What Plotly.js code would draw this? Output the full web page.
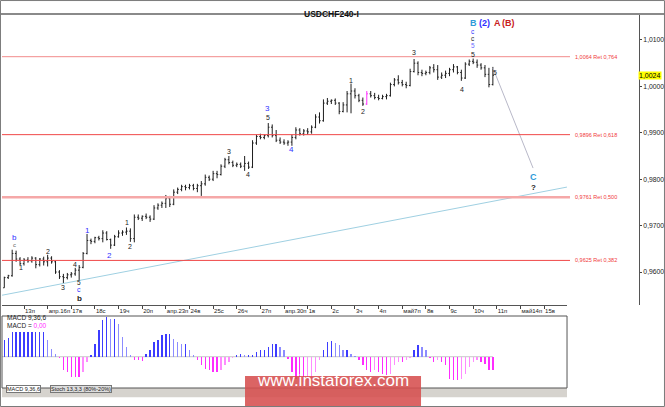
<!DOCTYPE html>
<html>
<head>
<meta charset="utf-8">
<script src="https://cdn.plot.ly/plotly-3.0.1.min.js"></script>
<style>html,body{margin:0;padding:0;background:#fff}#chart{width:665px;height:407px}</style>
</head>
<body>
<div id="chart"></div>
<script>
// USDCHF H4 bars, 6 per trading day, index 0 = first visible bar (Apr 12)
var openP = [
  0.9560,0.9566,0.9588,0.9592,0.9640,0.9628,0.9618,0.9626,0.9624,0.9630,
  0.9616,0.9628,0.9622,0.9630,0.9622,0.9600,0.9590,0.9588,0.9594,0.9596,
  0.9604,0.9610,0.9640,0.9668,0.9666,0.9674,0.9672,0.9684,0.9670,0.9658,
  0.9676,0.9684,0.9686,0.9688,0.9672,0.9718,0.9716,0.9720,0.9718,0.9714,
  0.9738,0.9744,0.9748,0.9758,0.9746,0.9772,0.9778,0.9784,0.9782,0.9786,
  0.9780,0.9786,0.9790,0.9804,0.9800,0.9812,0.9810,0.9828,0.9842,0.9836,
  0.9830,0.9832,0.9828,0.9834,0.9826,0.9878,0.9892,0.9890,0.9894,0.9912,
  0.9894,0.9884,0.9880,0.9878,0.9880,0.9890,0.9906,0.9898,0.9904,0.9902,
  0.9912,0.9934,0.9926,0.9964,0.9968,0.9970,0.9964,0.9946,0.9960,0.9984,
  0.9990,0.9980,0.9970,0.9962,0.9984,0.9980,0.9976,0.9974,0.9978,0.9980,
  1.0004,1.0014,1.0008,1.0004,1.0002,1.0032,1.0050,1.0030,1.0028,1.0030,
  1.0040,1.0036,1.0020,1.0024,1.0028,1.0036,1.0042,1.0030,1.0018,1.0048,
  1.0054,1.0052,1.0046,1.0040,1.0026,1.0004
];
var highP = [
  0.9568,0.9590,0.9594,0.9648,0.9646,0.9632,0.9630,0.9632,0.9634,0.9632,
  0.9630,0.9633,0.9637,0.9634,0.9624,0.9604,0.9596,0.9598,0.9600,0.9609,
  0.9615,0.9643,0.9682,0.9672,0.9676,0.9678,0.9690,0.9688,0.9672,0.9680,
  0.9690,0.9690,0.9696,0.9694,0.9724,0.9724,0.9722,0.9726,0.9722,0.9744,
  0.9748,0.9752,0.9766,0.9764,0.9778,0.9782,0.9788,0.9788,0.9790,0.9790,
  0.9790,0.9796,0.9810,0.9808,0.9818,0.9818,0.9832,0.9846,0.9850,0.9840,
  0.9836,0.9836,0.9850,0.9838,0.9884,0.9896,0.9898,0.9896,0.9921,0.9918,
  0.9906,0.9890,0.9886,0.9884,0.9896,0.9912,0.9910,0.9908,0.9910,0.9916,
  0.9940,0.9944,0.9972,0.9975,0.9972,0.9974,0.9966,0.9966,0.9990,1.0006,
  0.9996,0.9984,0.9976,0.9990,0.9990,0.9986,0.9982,0.9982,0.9984,1.0008,
  1.0018,1.0024,1.0014,1.0010,1.0038,1.0059,1.0054,1.0036,1.0034,1.0044,
  1.0048,1.0046,1.0030,1.0034,1.0040,1.0048,1.0044,1.0036,1.0052,1.0058,
  1.0060,1.0058,1.0050,1.0046,1.0040,1.0042
];
var lowP = [
  0.9552,0.9566,0.9585,0.9590,0.9622,0.9614,0.9614,0.9620,0.9620,0.9608,
  0.9612,0.9614,0.9612,0.9618,0.9596,0.9585,0.9576,0.9584,0.9588,0.9592,
  0.9582,0.9608,0.9638,0.9660,0.9662,0.9668,0.9664,0.9668,0.9650,0.9656,
  0.9674,0.9678,0.9680,0.9665,0.9664,0.9712,0.9710,0.9714,0.9708,0.9712,
  0.9734,0.9738,0.9738,0.9740,0.9744,0.9768,0.9774,0.9776,0.9778,0.9776,
  0.9772,0.9764,0.9786,0.9796,0.9796,0.9802,0.9808,0.9824,0.9832,0.9826,
  0.9826,0.9824,0.9818,0.9822,0.9824,0.9874,0.9886,0.9886,0.9890,0.9890,
  0.9880,0.9876,0.9874,0.9872,0.9872,0.9886,0.9894,0.9894,0.9896,0.9898,
  0.9910,0.9920,0.9924,0.9960,0.9962,0.9960,0.9940,0.9944,0.9944,0.9942,
  0.9974,0.9966,0.9958,0.9960,0.9976,0.9972,0.9970,0.9972,0.9972,0.9978,
  1.0000,1.0004,1.0000,0.9996,1.0000,1.0030,1.0024,1.0022,1.0024,1.0026,
  1.0030,1.0014,1.0016,1.0018,1.0022,1.0030,1.0026,1.0012,1.0016,1.0044,
  1.0048,1.0040,1.0036,1.0020,0.9998,1.0002
];
var closeP = [
  0.9565,0.9588,0.9592,0.9640,0.9628,0.9618,0.9626,0.9624,0.9630,0.9616,
  0.9628,0.9622,0.9630,0.9622,0.9600,0.9590,0.9588,0.9594,0.9596,0.9604,
  0.9610,0.9640,0.9668,0.9666,0.9674,0.9672,0.9684,0.9670,0.9658,0.9676,
  0.9684,0.9686,0.9688,0.9672,0.9718,0.9716,0.9720,0.9718,0.9714,0.9738,
  0.9744,0.9748,0.9758,0.9746,0.9772,0.9778,0.9784,0.9782,0.9786,0.9780,
  0.9786,0.9790,0.9804,0.9800,0.9812,0.9810,0.9828,0.9842,0.9836,0.9830,
  0.9832,0.9828,0.9834,0.9826,0.9878,0.9892,0.9890,0.9894,0.9912,0.9894,
  0.9884,0.9880,0.9878,0.9880,0.9890,0.9906,0.9898,0.9904,0.9902,0.9912,
  0.9934,0.9926,0.9964,0.9968,0.9970,0.9964,0.9946,0.9960,0.9984,0.9990,
  0.9980,0.9970,0.9962,0.9984,0.9980,0.9976,0.9974,0.9978,0.9980,1.0004,
  1.0014,1.0008,1.0004,1.0002,1.0032,1.0050,1.0030,1.0028,1.0030,1.0040,
  1.0036,1.0020,1.0024,1.0028,1.0036,1.0042,1.0030,1.0018,1.0048,1.0054,
  1.0052,1.0046,1.0040,1.0026,1.0004,1.0024
];
var pinkBars = [93];

// MACD 9,36,6 histogram, in units of 0.0001
var macdHist = [
  15,17,19,25,25,25,25,25,25,25,25,25,17,8,3,
  -1,-13,-15,-20,-20,-20,-15,-5,
  2,13,27,37,40,38,38,33,20,10,2,
  -3,-3,-4,
  3,7,15,17,22,23,23,18,15,13,13,7,2,
  -3,-8,-12,-13,-15,-15,-13,-8,-5,-1,
  2,3,2,2,2,
  5,7,7,10,13,13,10,7,
  -2,-15,-22,-25,-25,-23,-22,-15,-3,
  7,15,16,14,12,7,7,3,1,
  -3,-8,-13,-15,-13,-15,-17,-18,-17,-8,-5,-5,-3,-1,
  7,12,10,7,
  -1,-5,-3,-5,-8,-22,-23,-23,-22,-17,-10,-5,-3,-5,-7,-13,-13
];

var dayTicks = [6,12,18,24,30,36,42,48,54,60,66,72,78,84,90,96,102,108,114,120,126,132,138];
var dayLabels = ['13п','апр.16п','17в','18с','19ч','20п','апр.23п','24в','25с','26ч','27п','апр.30п',
                 '1в','2с','3ч','4п','май7п','8в','9с','10ч','11п','май14п','15в'];

var fiboLevels = [1.0064, 0.9896, 0.9761, 0.9625];
var fiboRatios = ['0,764', '0,618', '0,500', '0,382'];
var fiboColors = ['#f28c8c', '#f04848', '#f5a8a8', '#f04848'];
var fiboWidths = [1, 1, 2.5, 1];

var trendX = [0.42, 143.8];
var trendY = [0.9550, 0.9783];
var targetX = [125, 135.2];
var targetY = [1.0040, 0.9824];

// wave labels: text, bar index, price, colour, size
var BLK = '#222', BLU = '#3030ff', LBL = '#2f9bd9', RED = '#c82020';
var waveLabels = [
  ['b', 3.7, 0.9674, BLU, 8], ['c', 3.7, 0.9659, '#666', 6],
  ['1', 5.2, 0.9609, BLK, 7], ['2', 12.1, 0.9645, BLK, 7], ['3', 15.9, 0.9566, BLK, 7],
  ['4', 18.9, 0.9617, BLK, 7], ['5', 20.0, 0.9577, BLK, 6.5], ['c', 20.0, 0.9562, BLU, 7],
  ['<b>b</b>', 20.0, 0.9543, BLK, 8],
  ['1', 22.0, 0.9690, BLU, 8], ['2', 27.8, 0.9635, BLU, 8],
  ['1', 32.1, 0.9706, BLK, 7], ['2', 32.9, 0.9654, BLK, 7],
  ['3', 58.0, 0.9859, BLK, 7], ['4', 62.9, 0.9811, BLK, 7],
  ['3', 67.9, 0.9952, BLU, 8], ['5', 67.9, 0.9934, BLK, 7], ['4', 74.0, 0.9863, BLU, 8],
  ['1', 89.0, 1.0012, BLK, 7], ['2', 92.0, 0.9945, BLK, 7],
  ['3', 105.0, 1.0072, BLK, 7], ['4', 117.2, 0.9994, BLK, 7], ['5', 120.0, 1.0068, BLK, 7],
  ['5', 125.6, 1.0029, BLK, 7],
  ['5', 120.0, 1.0089, '#6a6aff', 6.5], ['c', 120.0, 1.0104, BLK, 6.5], ['c', 120.0, 1.0119, BLU, 6.5],
  ['<b>B</b>', 120.0, 1.0136, LBL, 9], ['<b>(2)</b>', 122.9, 1.0136, BLU, 9],
  ['<b>A</b>', 126.1, 1.0136, RED, 9], ['<b>(B)</b>', 128.9, 1.0136, RED, 9],
  ['<b>C</b>', 135.2, 0.9805, LBL, 9], ['<b>?</b>', 135.2, 0.9783, BLK, 8]
];

var idx = [];
for (var i = 0; i < closeP.length; i++) idx.push(i);

function pick(arr, wantPink) {
  var out = [];
  for (var k = 0; k < arr.length; k++) {
    if ((pinkBars.indexOf(k) >= 0) == wantPink) out.push(arr[k]);
  }
  return out;
}

var font = 'Liberation Sans, Arial, sans-serif';

var bars = {
  type: 'ohlc', x: pick(idx, false),
  open: pick(openP, false), high: pick(highP, false), low: pick(lowP, false), close: pick(closeP, false),
  increasing: {line: {color: '#1e1e1e', width: 1}},
  decreasing: {line: {color: '#1e1e1e', width: 1}},
  tickwidth: 0.3, hoverinfo: 'skip', showlegend: false, xaxis: 'x', yaxis: 'y'
};
var pinkTrace = {
  type: 'ohlc', x: pick(idx, true),
  open: pick(openP, true), high: pick(highP, true), low: pick(lowP, true), close: pick(closeP, true),
  increasing: {line: {color: '#ff30ff', width: 1}},
  decreasing: {line: {color: '#ff30ff', width: 1}},
  tickwidth: 0.3, hoverinfo: 'skip', showlegend: false, xaxis: 'x', yaxis: 'y'
};

var histColors = [];
for (var j = 0; j < macdHist.length; j++) {
  var prev = j > 0 ? macdHist[j - 1] : macdHist[j];
  if (macdHist[j] >= 0) histColors.push(macdHist[j] >= prev ? '#3c3cff' : '#8c8cff');
  else histColors.push(macdHist[j] <= prev ? '#ff2cff' : '#ff8cff');
}
var macdTrace = {
  type: 'bar', x: idx, y: macdHist, width: 0.34,
  marker: {color: histColors, line: {width: 0}},
  hoverinfo: 'skip', showlegend: false, xaxis: 'x2', yaxis: 'y2'
};

// geometry: plot area x 2..639 px, y 14..388 px
var xDom = 0.887;
var shapes = [
  {type: 'line', xref: 'paper', yref: 'paper', x0: -0.004, x1: 1.041, y0: 1, y1: 1, line: {color: '#8a8a8a', width: 2}},
  {type: 'line', xref: 'x', yref: 'y', x0: trendX[0], x1: trendX[1], y0: trendY[0], y1: trendY[1], line: {color: '#9fd0e2', width: 1}},
  {type: 'line', xref: 'x', yref: 'y', x0: targetX[0], x1: targetX[1], y0: targetY[0], y1: targetY[1], line: {color: '#b8b8c8', width: 1}},
  {type: 'line', xref: 'x2', yref: 'y2', x0: 0, x1: idx[idx.length - 1], y0: 0, y1: 0, line: {color: '#c8c8c8', width: 1}, layer: 'below'},
  {type: 'rect', xref: 'paper', yref: 'paper', x0: 0, x1: xDom, y0: -0.025, y1: 0, fillcolor: '#d6d3ce', line: {width: 0}},
  {type: 'rect', xref: 'paper', yref: 'paper', x0: 0, x1: xDom, y0: 0, y1: 0.1925, line: {color: '#555', width: 1}},
  {type: 'rect', xref: 'paper', yref: 'paper', x0: 0.3815, x1: 0.6578, y0: -0.0508, y1: 0.032, fillcolor: 'rgba(214,78,78,0.88)', line: {width: 0}},
  {type: 'rect', xref: 'paper', yref: 'paper', x0: -0.0024, x1: 1.04, y0: -0.0495, y1: 1.036, line: {color: '#7a7a7a', width: 1}}
];
var annotations = [
  {xref: 'paper', yref: 'paper', x: 0.518, y: 1.019, text: '<b>USDCHF240-I</b>', showarrow: false,
   font: {family: font, size: 8.5, color: '#111'}},
  {xref: 'paper', yref: 'paper', x: 0.005, y: 0.175, xanchor: 'left', text: 'MACD 9,36,6', showarrow: false,
   font: {family: font, size: 6.5, color: '#222'}},
  {xref: 'paper', yref: 'paper', x: 0.005, y: 0.152, xanchor: 'left', text: 'MACD = <span style="color:#ff30ff">0,00</span>', showarrow: false,
   font: {family: font, size: 6.5, color: '#222'}},
  {xref: 'paper', yref: 'paper', x: 0.007, y: -0.0125, xanchor: 'left', text: 'MACD 9,36,6', showarrow: false,
   bgcolor: '#fff', bordercolor: '#777', borderwidth: 1, borderpad: 0, font: {family: font, size: 5.5, color: '#222'}},
  {xref: 'paper', yref: 'paper', x: 0.075, y: -0.0125, xanchor: 'left', text: 'Stoch 13,3,3 (80%-20%)', showarrow: false,
   bgcolor: '#ddd', bordercolor: '#777', borderwidth: 1, borderpad: 0, font: {family: font, size: 5.5, color: '#222'}},
  {xref: 'paper', yref: 'paper', x: 0.5197, y: -0.0095, text: 'www.instaforex.com', showarrow: false,
   font: {family: font, size: 17, color: '#fff'}},
  {xref: 'paper', yref: 'y', x: 0.9984, y: closeP[closeP.length - 1], xanchor: 'left',
   text: closeP[closeP.length - 1].toFixed(4).replace('.', ','), showarrow: false,
   bgcolor: '#ffff00', borderpad: 0, font: {family: font, size: 7, color: '#000'}}
];

for (var f = 0; f < fiboLevels.length; f++) {
  shapes.push({type: 'line', xref: 'paper', yref: 'y', x0: 0, x1: 0.8917, y0: fiboLevels[f], y1: fiboLevels[f],
               line: {color: fiboColors[f], width: fiboWidths[f]}});
  annotations.push({xref: 'paper', yref: 'y', x: 0.8966, y: fiboLevels[f], xanchor: 'left', showarrow: false,
                    text: fiboLevels[f].toFixed(4).replace('.', ',') + ' Ret ' + fiboRatios[f],
                    font: {family: font, size: 5.5, color: '#f03a3a'}});
}

for (var w = 0; w < waveLabels.length; w++) {
  var lb = waveLabels[w];
  annotations.push({xref: 'x', yref: 'y', x: lb[1], y: lb[2], text: lb[0], showarrow: false,
                    font: {family: font, size: lb[4], color: lb[3]}});
}

var layout = {
  width: 665, height: 407,
  margin: {l: 2, r: 26, t: 14, b: 19, pad: 0},
  paper_bgcolor: '#fff', plot_bgcolor: '#fff',
  separators: ', ',
  showlegend: false,
  xaxis: {
    domain: [0, xDom], range: [0.416, 143.82], anchor: 'y',
    tickvals: dayTicks, ticktext: dayLabels, ticks: 'outside', ticklen: 3, tickcolor: '#444',
    tickangle: 0, ticklabelposition: 'outside right', tickfont: {family: font, size: 6, color: '#222'},
    showline: true, linecolor: '#555', linewidth: 1, showgrid: false, zeroline: false,
    rangeslider: {visible: false}, fixedrange: true
  },
  yaxis: {
    domain: [0.2219, 1], range: [0.95289, 1.0156], anchor: 'free', position: 1, side: 'right',
    tickvals: [0.96, 0.97, 0.98, 0.99, 1.00, 1.01], tickformat: '.4f',
    ticks: 'outside', ticklen: 2, tickcolor: '#444', tickfont: {family: font, size: 6.8, color: '#222'},
    showline: true, linecolor: '#555', linewidth: 1, showgrid: false, zeroline: false, fixedrange: true
  },
  xaxis2: {domain: [0, xDom], range: [0.416, 143.82], anchor: 'y2', visible: false, fixedrange: true},
  yaxis2: {domain: [0, 0.1925], range: [-31.3, 40.7], anchor: 'x2', visible: false, fixedrange: true},
  bargap: 0,
  shapes: shapes,
  annotations: annotations
};

Plotly.newPlot('chart', [macdTrace, bars, pinkTrace], layout, {displayModeBar: false, staticPlot: true});
</script>
</body>
</html>
